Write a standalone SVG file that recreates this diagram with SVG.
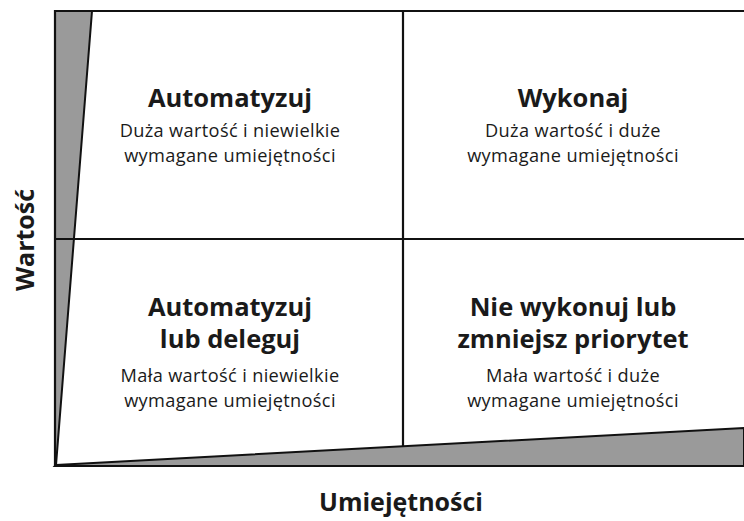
<svg xmlns="http://www.w3.org/2000/svg" width="744" height="521" viewBox="0 0 744 521">
<style>
.t{font-family:"Open Sans","Noto Sans",sans-serif;font-weight:bold;font-size:25.5px;fill:#1a1a1a;text-anchor:middle}
.s{font-family:"Open Sans","Noto Sans",sans-serif;font-size:18.2px;letter-spacing:0.35px;fill:#1a1a1a;text-anchor:middle}
.ax{font-family:"Open Sans","Noto Sans",sans-serif;font-weight:bold;font-size:25px;fill:#1a1a1a;text-anchor:middle}
.ln{stroke:#111;stroke-width:2.2;fill:none}
.w{fill:#9a9a9a;stroke:#111;stroke-width:2}
</style>
<rect width="744" height="521" fill="#fff"/>
<g id="wedges">
<polygon class="w" points="55,11 92,11 56,465 55,465"/>
<polygon class="w" points="56,465 744,428 744,466 55,466"/>
</g>
<g id="connectors">
<line class="ln" x1="54" y1="11" x2="744" y2="11"/>
<line class="ln" x1="55" y1="10" x2="55" y2="467"/>
<line class="ln" x1="54" y1="466" x2="744" y2="466"/>
<line class="ln" x1="403" y1="11" x2="403" y2="446"/>
<line class="ln" x1="55" y1="239" x2="744" y2="239"/>
</g>
<g id="q1">
<text class="t" x="230" y="107">Automatyzuj</text>
<text class="s" x="230" y="137">Duża wartość i niewielkie</text>
<text class="s" x="230" y="162">wymagane umiejętności</text>
</g>
<g id="q2">
<text class="t" x="573" y="107">Wykonaj</text>
<text class="s" x="573" y="137">Duża wartość i duże</text>
<text class="s" x="573" y="162">wymagane umiejętności</text>
</g>
<g id="q3">
<text class="t" x="230" y="316">Automatyzuj</text>
<text class="t" x="230" y="348">lub deleguj</text>
<text class="s" x="230" y="382">Mała wartość i niewielkie</text>
<text class="s" x="230" y="407">wymagane umiejętności</text>
</g>
<g id="q4">
<text class="t" x="573" y="316">Nie wykonuj lub</text>
<text class="t" x="573" y="348">zmniejsz priorytet</text>
<text class="s" x="573" y="382">Mała wartość i duże</text>
<text class="s" x="573" y="407">wymagane umiejętności</text>
</g>
<g id="axes">
<text class="ax" x="401" y="511">Umiejętności</text>
<text class="ax" transform="translate(34,240) rotate(-90)" x="0" y="0">Wartość</text>
</g>
</svg>
